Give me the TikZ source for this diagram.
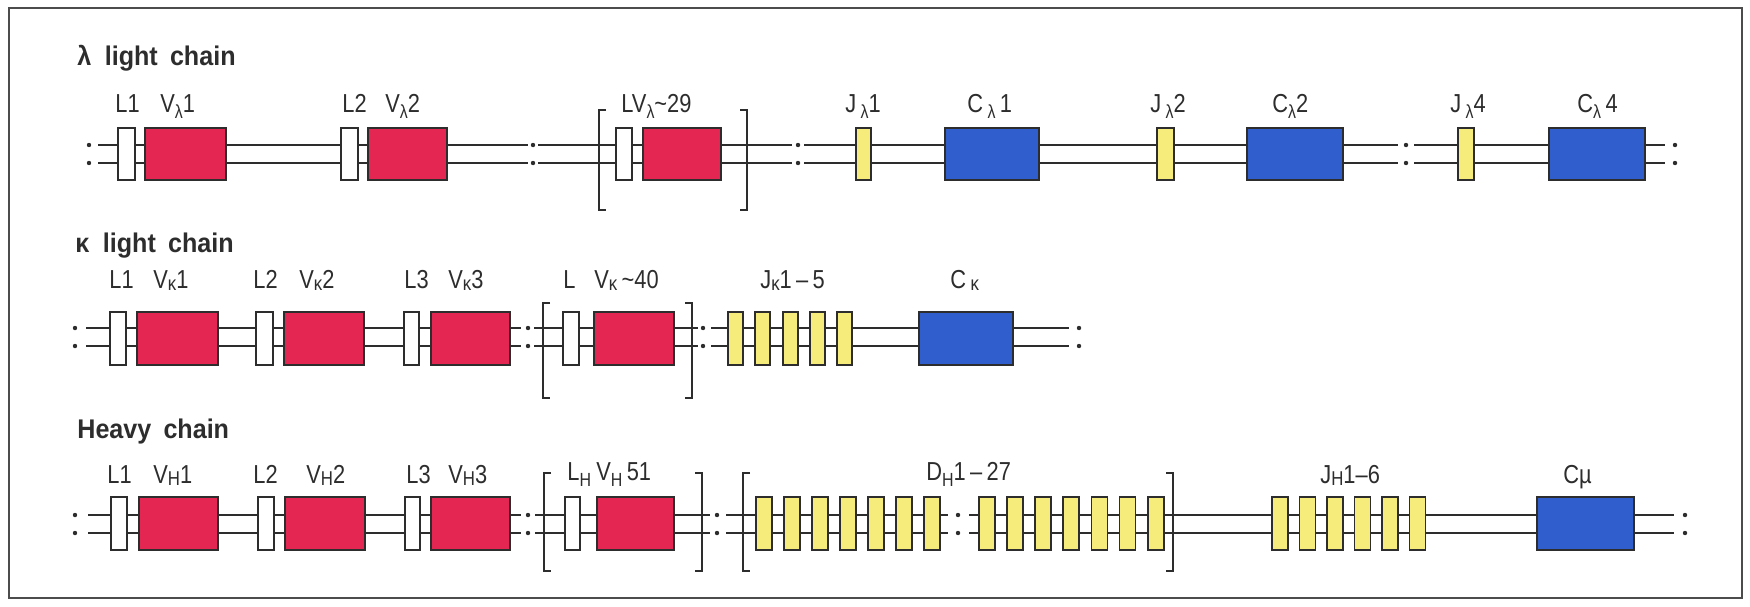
\documentclass[tikz,border=0pt]{standalone}
\usepackage{fontspec}
\setmainfont{Liberation Sans}
\newfontfamily\cond[FakeStretch=0.84]{Liberation Sans}
\newfontfamily\tfont[FakeStretch=0.93]{Liberation Sans}
\definecolor{vred}{RGB}{228,38,82}
\definecolor{cblue}{RGB}{48,94,204}
\definecolor{jyel}{RGB}{246,236,124}
\definecolor{ink}{RGB}{45,45,45}
\newcommand\gene[6]{\node[#6, minimum width={((#3)-(#2))*0.5pt}, minimum height={((#5)-(#4))*0.5pt}] (#1) at ({((#2)+(#3))/2},{((#4)+(#5))/2}) {};}
\newcommand\dl[4]{\coordinate (a) at (#1,#3); \coordinate (b) at (#2,#3); \coordinate (c) at (#1,#4); \coordinate (d) at (#2,#4); \draw[dna] (a) -- (b) (c) -- (d);}
\newcommand\dts[3]{\fill[ink] (#1,#2) circle (1.1pt) (#1,#3) circle (1.1pt);}
\newcommand\lbr[3]{\draw[brk] (#1+7,#2) -- (#1,#2) -- (#1,#3) -- (#1+7,#3);}
\newcommand\rbr[3]{\draw[brk] (#1-7,#2) -- (#1,#2) -- (#1,#3) -- (#1-7,#3);}
\newcommand\lo[1]{\raisebox{-0.5ex}{\fontsize{9.5}{10}\selectfont #1}}
\newcommand\sm[1]{\raisebox{-0.2ex}{\fontsize{10}{10}\selectfont #1}}
\newcommand\tl{\char`\~}
\begin{document}
\begin{tikzpicture}[x=0.5pt, y=-0.5pt,
 gb/.style={draw=ink, line width=0.9pt, inner sep=0pt, outer sep=0pt},
 lbox/.style={gb, fill=white},
 vbox/.style={gb, fill=vred},
 jbox/.style={gb, fill=jyel},
 cbox/.style={gb, fill=cblue},
 dna/.style={draw=ink, line width=0.95pt},
 brk/.style={draw=ink, line width=0.9pt},
 lab/.style={anchor=base west, inner sep=0pt, font=\cond\fontsize{13}{15}\selectfont, text=ink},
 ttl/.style={anchor=base west, inner sep=0pt, font=\tfont\fontsize{13.5}{15}\selectfont\bfseries, text=ink}]
\useasboundingbox (0,0) rectangle (1750,606);
\fill[white] (0,0) rectangle (1750,606);
\draw[black!70, line width=0.8pt] (9,8) rectangle (1742,598);
% ---------- lambda ----------
\node[ttl] (t1) at (77,65) {λ\hspace{0.5em}light\hspace{0.45em}chain};
\dl{98}{528}{145}{163}
\dl{538}{792}{145}{163}
\dl{804}{1398}{145}{163}
\dl{1414}{1665}{145}{163}
\dts{89}{145}{163}\dts{533}{145}{163}\dts{798}{145}{163}\dts{1406}{145}{163}\dts{1675}{145}{163}
\lbr{599}{110}{210}\rbr{747}{110}{210}
\gene{l1a}{118}{135}{128}{180}{lbox}
\gene{v1a}{145}{226}{128}{180}{vbox}
\gene{l1b}{341}{358}{128}{180}{lbox}
\gene{v1b}{368}{447}{128}{180}{vbox}
\gene{l1c}{616}{632}{128}{180}{lbox}
\gene{v1c}{643}{721}{128}{180}{vbox}
\gene{j1a}{856}{871}{128}{180}{jbox}
\gene{c1a}{945}{1039}{128}{180}{cbox}
\gene{j1b}{1157}{1174}{128}{180}{jbox}
\gene{c1b}{1247}{1343}{128}{180}{cbox}
\gene{j1c}{1458}{1474}{128}{180}{jbox}
\gene{c1c}{1549}{1645}{128}{180}{cbox}
\node[lab] (n1) at (115,112) {L1};
\node[lab] (n2) at (160,112) {V\lo{λ}1};
\node[lab] (n3) at (342,112) {L2};
\node[lab] (n4) at (385,112) {V\lo{λ}2};
\node[lab] (n5) at (621,112) {LV\lo{λ}\tl29};
\node[lab] (n6) at (845,112) {J\,\lo{λ}1};
\node[lab] (n7) at (967,112) {C\,\lo{λ}\,1};
\node[lab] (n8) at (1150,112) {J\,\lo{λ}2};
\node[lab] (n9) at (1272,112) {C\lo{λ}2};
\node[lab] (n10) at (1450,112) {J\,\lo{λ}4};
\node[lab] (n11) at (1577,112) {C\lo{λ}\,4};
% ---------- kappa ----------
\node[ttl] (t2) at (75,252) {κ\hspace{0.5em}light\hspace{0.45em}chain};
\dl{86}{521}{328}{346}
\dl{534}{698}{328}{346}
\dl{711}{1069}{328}{346}
\dts{75}{328}{346}\dts{528}{328}{346}\dts{703}{328}{346}\dts{1079}{328}{346}
\lbr{543}{303}{398}\rbr{692}{303}{398}
\gene{l2a}{110}{126}{312}{365}{lbox}
\gene{v2a}{137}{218}{312}{365}{vbox}
\gene{l2b}{256}{273}{312}{365}{lbox}
\gene{v2b}{284}{364}{312}{365}{vbox}
\gene{l2c}{404}{419}{312}{365}{lbox}
\gene{v2c}{431}{510}{312}{365}{vbox}
\gene{l2d}{563}{579}{312}{365}{lbox}
\gene{v2d}{594}{674}{312}{365}{vbox}
\foreach \i in {0,...,4} {\gene{jk\i}{728+27.3*\i}{743+27.3*\i}{312}{365}{jbox}}
\gene{c2a}{919}{1013}{312}{365}{cbox}
\node[lab] (m1) at (109,288) {L1};
\node[lab] (m2) at (153,288) {V\sm{κ}1};
\node[lab] (m3) at (253,288) {L2};
\node[lab] (m4) at (299,288) {V\sm{κ}2};
\node[lab] (m5) at (404,288) {L3};
\node[lab] (m6) at (448,288) {V\sm{κ}3};
\node[lab] (m7) at (563,288) {L};
\node[lab] (m8) at (594,288) {V\sm{κ}\,\tl40};
\node[lab] (m9) at (760,288) {J\sm{κ}1\,–\,5};
\node[lab] (m10) at (950,288) {C\,\sm{κ}};
% ---------- heavy ----------
\node[ttl] (t3) at (77,438) {Heavy\hspace{0.45em}chain};
\dl{88}{521}{515}{533}
\dl{535}{710}{515}{533}
\dl{726}{948}{515}{533}
\dl{969}{1674}{515}{533}
\dts{75}{515}{533}\dts{528}{515}{533}\dts{717}{515}{533}\dts{958}{515}{533}\dts{1685}{515}{533}
\lbr{544}{473}{571}\rbr{702}{473}{571}
\lbr{743}{473}{571}\rbr{1173}{473}{571}
\gene{l3a}{111}{127}{497}{550}{lbox}
\gene{v3a}{139}{218}{497}{550}{vbox}
\gene{l3b}{258}{274}{497}{550}{lbox}
\gene{v3b}{285}{365}{497}{550}{vbox}
\gene{l3c}{405}{420}{497}{550}{lbox}
\gene{v3c}{431}{510}{497}{550}{vbox}
\gene{l3d}{565}{580}{497}{550}{lbox}
\gene{v3d}{597}{674}{497}{550}{vbox}
\foreach \i in {0,...,6} {\gene{da\i}{756+28*\i}{772+28*\i}{497}{550}{jbox}}
\foreach \i in {0,...,6} {\gene{db\i}{979+28.1*\i}{995+28.1*\i}{497}{550}{jbox}}
\foreach \i in {0,...,5} {\gene{jh\i}{1272+27.5*\i}{1288+27.5*\i}{497}{550}{jbox}}
\gene{c3a}{1537}{1634}{497}{550}{cbox}
\node[lab] (k1) at (107,483) {L1};
\node[lab] (k2) at (153,483) {V\sm{H}1};
\node[lab] (k3) at (253,483) {L2};
\node[lab] (k4) at (306,483) {V\sm{H}2};
\node[lab] (k5) at (406,483) {L3};
\node[lab] (k6) at (448,483) {V\sm{H}3};
\node[lab] (k7) at (567,480) {L\lo{H}};
\node[lab] (k8) at (596,480) {V\lo{H}\,51};
\node[lab] (k9) at (926,480) {D\lo{H}1\,–\,27};
\node[lab] (k10) at (1320,483) {J\sm{H}1–6};
\node[lab] (k11) at (1563,483) {C\textmu};
\end{tikzpicture}
\end{document}
